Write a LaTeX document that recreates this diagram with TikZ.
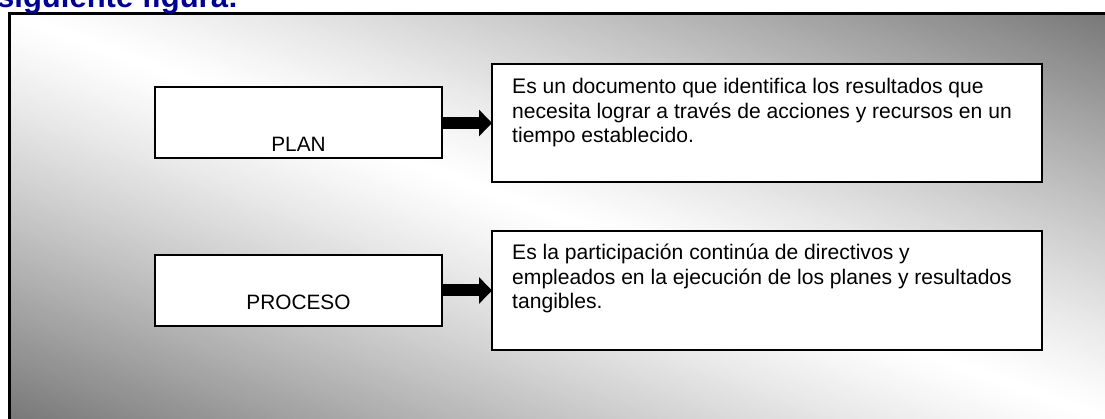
\documentclass[tikz,border=0pt]{standalone}
\usepackage{fontspec}
\setmainfont{Liberation Sans}
\usetikzlibrary{arrows.meta,calc}
\definecolor{navytext}{RGB}{0,0,150}
\definecolor{darkshade}{RGB}{120,120,120}
\begin{document}
\begin{tikzpicture}[x=1pt,y=-1pt,
  boxstyle/.style={draw=black, line width=2pt, fill=white, inner sep=0pt, outer sep=0pt},
  labelstyle/.style={inner sep=0pt, anchor=base, font=\fontsize{20.8}{24}\selectfont},
  descstyle/.style={inner sep=0pt, anchor=base west},
  blockarrow/.style={line width=12pt, -{Triangle[length=13pt,width=26pt]}}
]
\useasboundingbox (0,0) rectangle (1105,419);
\clip (0,0) rectangle (1105,419);
% background frame with diagonal gradient built from strips
\begin{scope}
  \clip (9.7,13.7) rectangle (1125,440);
  \foreach \c in {-425,-420,...,425}{
    \pgfmathsetmacro\tint{100*min(1,abs(\c+2.5)/405)^1.2}
    \fill[darkshade!\tint!white]
      (0,{14-3.7+\c}) -- (1125,{14+1115*0.369863+\c}) --
      (1125,{14+1115*0.369863+\c+5.6}) -- (0,{14-3.7+\c+5.6}) -- cycle;
  }
\end{scope}
\draw[line width=2.7pt] (9.7,13.7) rectangle (1125,440);
% cut-off heading
\node[anchor=base west, inner sep=0pt, text=navytext, font=\bfseries\fontsize{31}{31}\selectfont] (heading) at (-3,8) {siguiente figura:};
% boxes
\node[boxstyle, minimum width=287pt, minimum height=71pt] (plan) at (298.5,123) {};
\node[boxstyle, minimum width=550pt, minimum height=118pt] (desc1) at (767,123) {};
\node[boxstyle, minimum width=287pt, minimum height=71pt] (proceso) at (298.5,290.5) {};
\node[boxstyle, minimum width=550pt, minimum height=119pt] (desc2) at (767,290.5) {};
% labels
\node[labelstyle] (plantext) at (298.5,152) {PLAN};
\node[labelstyle] (procesotext) at (298.5,310) {PROCESO};
\node[descstyle] (desc1text) at (512,94) {\parbox[t]{525pt}{\fontsize{21.1}{24.5}\selectfont Es un documento que identifica los resultados que\\necesita lograr a través de acciones y recursos en un\\tiempo establecido.}};
\node[descstyle] (desc2text) at (512,260) {\parbox[t]{525pt}{\fontsize{21.1}{24.5}\selectfont Es la participación continúa de directivos y\\empleados en la ejecución de los planes y resultados\\tangibles.}};
% arrows
\draw[blockarrow] (plan.east) -- (desc1.west);
\draw[blockarrow] (proceso.east) -- (desc2.west);
\end{tikzpicture}
\end{document}
